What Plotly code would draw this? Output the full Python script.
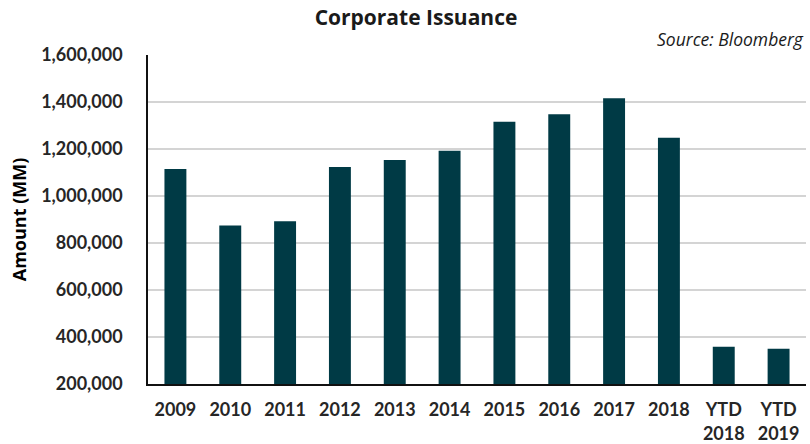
import plotly.graph_objects as go

# Annual corporate bond issuance, in millions
categories = ["2009", "2010", "2011", "2012", "2013", "2014", "2015",
              "2016", "2017", "2018", "YTD<br>2018", "YTD<br>2019"]
issuance = [1115000, 875000, 893000, 1123000, 1153000, 1193000, 1316000,
            1348000, 1416000, 1248000, 359000, 350000]

y_ticks = [200000, 400000, 600000, 800000, 1000000, 1200000, 1400000, 1600000]

bar_color = "#003a45"
tick_font = dict(family="Lato", size=18, color="#262626", weight="bold")

fig = go.Figure(
    go.Bar(
        x=categories,
        y=issuance,
        marker=dict(color=bar_color, line=dict(width=0)),
        width=0.4,
    )
)

fig.update_layout(
    width=810,
    height=444,
    margin=dict(l=148, r=4, t=55, b=60),
    paper_bgcolor="white",
    plot_bgcolor="white",
    showlegend=False,
    title=dict(
        text="<b>Corporate Issuance</b>",
        x=416 / 810, xref="container", xanchor="center",
        y=1 - 18 / 444, yref="container", yanchor="middle",
        font=dict(family="Open Sans", size=21, color="#1a1a1a"),
    ),
    annotations=[
        dict(
            text="<i>Source: Bloomberg</i>",
            xref="paper", yref="paper",
            x=1.0, y=1.0, xanchor="right", yanchor="bottom",
            yshift=2, showarrow=False,
            font=dict(family="Open Sans", size=17.5, color="#1a1a1a"),
        )
    ],
)

fig.update_xaxes(
    type="category",
    automargin=False,
    showline=True, linecolor="#111111", linewidth=1.5,
    ticks="", tickfont=tick_font,
    ticklabelstandoff=9,
    showgrid=False,
)

fig.update_yaxes(
    range=[200000, 1600000],
    automargin=False,
    tickvals=y_ticks,
    tickformat=",d",
    tickfont=tick_font,
    ticklabelstandoff=20,
    showline=True, linecolor="#111111", linewidth=1.5,
    showgrid=True, gridcolor="#d4d4d4", gridwidth=1.5,
    ticks="",
    title=dict(text="<b>Amount (MM)</b>", standoff=10,
               font=dict(family="Open Sans", size=18, color="#000000")),
    zeroline=False,
)

fig.write_html("out.html")
